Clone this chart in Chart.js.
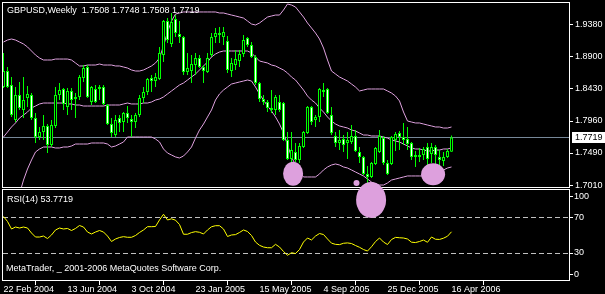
<!DOCTYPE html>
<html>
<head>
<meta charset="utf-8">
<script src="https://cdn.jsdelivr.net/npm/chart.js@4/dist/chart.umd.min.js"></script>
<style>
  html, body { margin: 0; padding: 0; background: #000; overflow: hidden; }
  canvas { display: block; }
</style>
</head>
<body>
<canvas id="mtChart" width="605" height="294"></canvas>
<script>
// GBPUSD weekly, 22 Feb 2004 .. 16 Apr 2006 (one value per weekly bar)
var tickBars  = [0, 16, 32, 48, 64, 80, 96, 112];
var tickDates = ['22 Feb 2004', '13 Jun 2004', '3 Oct 2004', '23 Jan 2005',
                 '15 May 2005', '4 Sep 2005', '25 Dec 2005', '16 Apr 2006'];
var priceTicks = [1.9380, 1.8900, 1.8430, 1.7960, 1.7490, 1.7010];
var rsiTickText = ['100', '70', '30', '0'];
var rsiLevels = [70, 30];

var opens = [1.8459,1.8694,1.8489,1.7975,1.8342,1.8122,1.8298,1.8342,1.8004,1.7725,
1.7798,1.7887,1.7608,1.7887,1.8342,1.8430,1.8166,1.8401,1.8283,1.8313,
1.8591,1.8753,1.8239,1.8430,1.8430,1.8459,1.8195,1.7916,1.7754,1.8004,
1.7945,1.8078,1.7990,1.7945,1.8048,1.8298,1.8386,1.8591,1.8547,1.8577,
1.8929,1.9428,1.9091,1.9458,1.9238,1.9194,1.8680,1.8694,1.8782,1.8885,
1.8753,1.8680,1.8929,1.9194,1.9252,1.9194,1.9135,1.8694,1.8782,1.8841,
1.8944,1.9179,1.9076,1.8900,1.8518,1.8283,1.8239,1.8151,1.8122,1.8239,
1.8224,1.7681,1.7402,1.7505,1.7387,1.7578,1.7784,1.8166,1.7975,1.8019,
1.8415,1.8430,1.8048,1.7740,1.7637,1.7696,1.7637,1.7652,1.7740,1.7505,
1.7432,1.7182,1.7138,1.7329,1.7505,1.7710,1.7343,1.7329,1.7681,1.7784,
1.7725,1.7696,1.7637,1.7432,1.7461,1.7461,1.7578,1.7476,1.7578,1.7432,
1.7373,1.7432,1.7508];
var highs = [1.8959,1.8753,1.8606,1.8459,1.8533,1.8606,1.8474,1.8371,1.8078,1.7872,
1.8048,1.7916,1.7975,1.8459,1.8518,1.8445,1.8445,1.8445,1.8371,1.8636,
1.8782,1.8782,1.8474,1.8489,1.8489,1.8489,1.8210,1.8004,1.8048,1.8048,
1.8092,1.8180,1.8048,1.8078,1.8342,1.8459,1.8591,1.8636,1.8665,1.9047,
1.9443,1.9472,1.9546,1.9516,1.9428,1.9208,1.8959,1.8929,1.8959,1.8929,
1.8782,1.8959,1.9252,1.9326,1.9340,1.9340,1.9208,1.8885,1.9003,1.9003,
1.9223,1.9194,1.9120,1.8929,1.8533,1.8342,1.8268,1.8415,1.8342,1.8342,
1.8239,1.7798,1.7798,1.7637,1.7637,1.7813,1.8180,1.8180,1.8048,1.8445,
1.8518,1.8445,1.8166,1.7798,1.7828,1.7754,1.7798,1.7901,1.7828,1.7578,
1.7446,1.7299,1.7358,1.7578,1.7828,1.7740,1.7387,1.7740,1.7798,1.7813,
1.7931,1.7872,1.7652,1.7520,1.7564,1.7578,1.7637,1.7637,1.7608,1.7534,
1.7505,1.7549,1.7748];
var lows = [1.8445,1.8445,1.8019,1.7945,1.8122,1.8004,1.8166,1.7975,1.7637,1.7681,
1.7681,1.7490,1.7578,1.7857,1.8268,1.8122,1.8048,1.8122,1.8004,1.8268,
1.8533,1.8298,1.8195,1.8224,1.8268,1.8195,1.7901,1.7725,1.7725,1.7798,
1.7798,1.7931,1.7725,1.7857,1.8019,1.8224,1.8342,1.8386,1.8459,1.8562,
1.8826,1.9105,1.9047,1.9194,1.9105,1.8636,1.8636,1.8518,1.8636,1.8738,
1.8518,1.8665,1.8900,1.9105,1.9105,1.9076,1.8665,1.8606,1.8709,1.8753,
1.8900,1.9047,1.8885,1.8489,1.8239,1.8195,1.8092,1.8078,1.8048,1.8092,
1.7666,1.7387,1.7358,1.7358,1.7343,1.7564,1.7769,1.7901,1.7872,1.7945,
1.8313,1.8063,1.7754,1.7578,1.7534,1.7505,1.7402,1.7622,1.7505,1.7343,
1.7167,1.7050,1.7123,1.7314,1.7490,1.7314,1.7167,1.7314,1.7520,1.7534,
1.7608,1.7534,1.7387,1.7285,1.7358,1.7387,1.7314,1.7343,1.7270,1.7241,
1.7299,1.7417,1.7508];
var closes = [1.8694,1.8459,1.8048,1.8342,1.8151,1.8268,1.8357,1.8004,1.7725,1.7798,
1.7887,1.7608,1.7901,1.8342,1.8415,1.8210,1.8401,1.8268,1.8313,1.8606,
1.8738,1.8313,1.8459,1.8239,1.8459,1.8210,1.7916,1.7784,1.7975,1.7931,
1.8078,1.8004,1.7945,1.8048,1.8298,1.8386,1.8577,1.8547,1.8606,1.8959,
1.9428,1.9149,1.9414,1.9252,1.9194,1.8680,1.8738,1.8797,1.8885,1.8753,
1.8694,1.8885,1.9194,1.9252,1.9223,1.9267,1.8709,1.8812,1.8870,1.8944,
1.9149,1.9076,1.8900,1.8518,1.8283,1.8239,1.8151,1.8122,1.8313,1.8122,
1.7681,1.7402,1.7534,1.7387,1.7593,1.7798,1.8166,1.7945,1.8019,1.8430,
1.8386,1.8078,1.7784,1.7637,1.7681,1.7608,1.7681,1.7740,1.7520,1.7432,
1.7182,1.7138,1.7343,1.7564,1.7740,1.7343,1.7182,1.7725,1.7769,1.7725,
1.7681,1.7622,1.7432,1.7461,1.7432,1.7549,1.7402,1.7578,1.7461,1.7387,
1.7432,1.7520,1.7719];

var bbUpper = [1.9120,1.9149,1.9164,1.9149,1.9120,1.9091,1.9047,1.8988,1.8929,1.8885,
1.8856,1.8856,1.8856,1.8870,1.8870,1.8870,1.8870,1.8856,1.8812,1.8768,
1.8768,1.8782,1.8782,1.8782,1.8797,1.8782,1.8782,1.8782,1.8768,1.8768,
1.8753,1.8738,1.8709,1.8694,1.8694,1.8709,1.8738,1.8768,1.8812,1.8885,
1.9061,1.9267,1.9428,1.9531,1.9546,1.9561,1.9561,1.9561,1.9561,1.9561,
1.9561,1.9561,1.9561,1.9561,1.9546,1.9546,1.9531,1.9516,1.9502,1.9487,
1.9472,1.9428,1.9384,1.9370,1.9399,1.9443,1.9487,1.9502,1.9516,1.9516,
1.9590,1.9678,1.9663,1.9634,1.9561,1.9487,1.9399,1.9326,1.9252,1.9164,
1.9032,1.8856,1.8694,1.8650,1.8606,1.8577,1.8547,1.8503,1.8459,1.8401,
1.8415,1.8430,1.8430,1.8430,1.8430,1.8430,1.8401,1.8371,1.8327,1.8254,
1.8092,1.7960,1.7945,1.7931,1.7931,1.7916,1.7901,1.7887,1.7872,1.7872,
1.7857,1.7857,1.7872];
var bbMiddle = [1.7725,1.7798,1.7872,1.7931,1.8004,1.8048,1.8092,1.8151,1.8180,1.8210,
1.8224,1.8224,1.8224,1.8224,1.8224,1.8224,1.8210,1.8210,1.8195,1.8195,
1.8180,1.8180,1.8180,1.8180,1.8180,1.8180,1.8195,1.8195,1.8195,1.8195,
1.8210,1.8224,1.8210,1.8210,1.8210,1.8224,1.8224,1.8239,1.8268,1.8283,
1.8313,1.8357,1.8401,1.8445,1.8489,1.8518,1.8562,1.8606,1.8650,1.8709,
1.8768,1.8826,1.8900,1.8944,1.8973,1.8988,1.8988,1.8988,1.8988,1.8988,
1.8988,1.8988,1.8959,1.8900,1.8841,1.8826,1.8812,1.8782,1.8768,1.8738,
1.8709,1.8665,1.8606,1.8562,1.8489,1.8415,1.8327,1.8268,1.8224,1.8151,
1.8092,1.8019,1.7960,1.7916,1.7887,1.7872,1.7857,1.7828,1.7813,1.7784,
1.7754,1.7754,1.7740,1.7740,1.7740,1.7725,1.7710,1.7681,1.7666,1.7652,
1.7622,1.7593,1.7564,1.7549,1.7549,1.7534,1.7520,1.7520,1.7534,1.7534,
1.7549,1.7549,1.7564];
var bbLower = [1.6330,1.6448,1.6580,1.6712,1.6888,1.7093,1.7255,1.7387,1.7505,1.7549,
1.7578,1.7578,1.7578,1.7564,1.7564,1.7578,1.7578,1.7593,1.7622,1.7622,
1.7622,1.7622,1.7637,1.7637,1.7637,1.7637,1.7622,1.7578,1.7593,1.7622,
1.7652,1.7725,1.7725,1.7725,1.7725,1.7725,1.7725,1.7725,1.7696,1.7652,
1.7549,1.7490,1.7461,1.7432,1.7417,1.7446,1.7505,1.7578,1.7710,1.7828,
1.7916,1.8019,1.8122,1.8268,1.8357,1.8415,1.8459,1.8503,1.8518,1.8533,
1.8547,1.8562,1.8547,1.8459,1.8357,1.8268,1.8180,1.8107,1.8019,1.7916,
1.7784,1.7608,1.7432,1.7314,1.7211,1.7138,1.7138,1.7138,1.7138,1.7182,
1.7241,1.7285,1.7314,1.7329,1.7314,1.7285,1.7270,1.7241,1.7211,1.7182,
1.7153,1.7108,1.7064,1.7035,1.7020,1.7020,1.7050,1.7093,1.7108,1.7123,
1.7138,1.7153,1.7153,1.7153,1.7153,1.7153,1.7153,1.7167,1.7182,1.7211,
1.7241,1.7270,1.7285];

var rsi = [70.9,65.3,56.9,59.1,58.0,59.1,58.0,52.4,47.9,47.9,
49.0,46.2,50.2,55.8,58.0,56.9,57.5,55.2,57.5,60.8,
59.1,53.5,51.3,53.5,55.2,53.5,49.0,42.9,45.7,47.4,
48.3,47.6,47.6,49.6,53.0,55.8,59.5,59.5,59.7,67.0,
73.4,67.0,68.3,66.8,61.9,51.0,51.0,52.9,53.9,53.2,
51.3,55.8,59.4,60.6,60.6,56.9,48.5,50.2,50.6,53.0,
55.8,54.1,49.6,42.3,38.6,36.7,35.9,35.9,39.7,36.7,
31.7,27.5,30.3,29.4,33.9,42.3,46.8,44.6,49.0,51.8,
50.7,45.7,41.0,39.7,39.4,40.9,41.3,40.6,38.4,36.4,
33.9,32.2,37.0,42.8,46.8,42.3,39.5,45.1,47.5,47.1,
46.8,45.7,42.1,41.7,42.9,44.5,42.0,47.9,45.4,45.2,
46.6,48.8,53.7719];

// hand drawn marks on the chart (bar index, value, axis)
var marks = [
  { bar: 72.4,  value: 1.7186, axis: 'y' },
  { bar: 88.25, value: 1.7050, axis: 'y' },
  { bar: 91.9,  value: 89.4,   axis: 'y2' },
  { bar: 107.4, value: 1.7178, axis: 'y' }
];
var markRadii = [[10, 12], [3, 3], [15, 18], [12, 11]];

var LIME = '#00ff00', PLUM = '#dda0dd', FONT = '9px "Liberation Sans", Arial, sans-serif';

var bars = opens.map(function (v, i) { return i; });
var last = bars.length - 1;

function series(arr) {
  return arr.map(function (v, i) { return { x: i, y: v }; });
}

function noPad(s) {
  s.paddingTop = 0; s.paddingBottom = 0; s.paddingLeft = 0; s.paddingRight = 0;
}

// keep every dataset inside its own panel
var panelClip = {
  id: 'panelClip',
  beforeDatasetDraw: function (chart, args) {
    var ys = chart.scales[args.meta.yAxisID];
    var ctx = chart.ctx;
    ctx.save();
    ctx.beginPath();
    ctx.rect(chart.chartArea.left, ys.top, chart.chartArea.right - chart.chartArea.left, ys.bottom - ys.top);
    ctx.clip();
  },
  afterDatasetDraw: function (chart) {
    chart.ctx.restore();
  }
};

var mtDecor = {
  id: 'mtDecor',
  beforeDraw: function (chart) {
    var ctx = chart.ctx;
    ctx.save();
    ctx.fillStyle = '#000';
    ctx.fillRect(0, 0, chart.width, chart.height);
    ctx.restore();
  },
  beforeDatasetsDraw: function (chart) {
    var ctx = chart.ctx, a = chart.chartArea;
    var y2 = chart.scales.y2, y = chart.scales.y;
    ctx.save();
    // RSI levels
    ctx.strokeStyle = '#c0c0c0';
    ctx.lineWidth = 1;
    ctx.setLineDash([5, 3]);
    rsiLevels.forEach(function (lv) {
      var py = Math.round(y2.getPixelForValue(lv)) + 0.5;
      ctx.beginPath();
      ctx.moveTo(a.left, py);
      ctx.lineTo(a.right, py);
      ctx.stroke();
    });
    ctx.setLineDash([]);
    // last price line
    var pl = Math.round(y.getPixelForValue(closes[last])) + 0.5;
    ctx.strokeStyle = '#778899';
    ctx.beginPath();
    ctx.moveTo(a.left, pl);
    ctx.lineTo(a.right, pl);
    ctx.stroke();
    ctx.restore();
  },
  afterDraw: function (chart) {
    var ctx = chart.ctx, a = chart.chartArea;
    var y = chart.scales.y, y2 = chart.scales.y2, x = chart.scales.x;
    ctx.save();
    // panel frames
    ctx.strokeStyle = '#fff';
    ctx.lineWidth = 1;
    ctx.strokeRect(a.left - 0.5, y.top + 0.5, a.right - a.left + 1, y.bottom - y.top - 1);
    ctx.strokeRect(a.left - 0.5, y2.top + 1.5, a.right - a.left + 1, y2.bottom - y2.top - 2);

    // texts
    ctx.font = FONT;
    ctx.textBaseline = 'middle';
    ctx.fillStyle = '#fff';
    ctx.fillText('GBPUSD,Weekly  ' + [opens[last], highs[last], lows[last], closes[last]]
      .map(function (v) { return v.toFixed(4); }).join(' '), 7, 11);
    ctx.fillText('RSI(14) ' + rsi[last].toFixed(4), 7, y2.top + 12);
    ctx.fillText('MetaTrader, _ 2001-2006 MetaQuotes Software Corp.', 6, y2.bottom - 12);

    // last price box
    var pl = Math.round(y.getPixelForValue(closes[last]));
    ctx.fillStyle = '#fff';
    ctx.fillRect(a.right + 3, pl - 5, chart.width - a.right - 3, 11);
    ctx.fillStyle = '#000';
    ctx.fillText(closes[last].toFixed(4), a.right + 6, pl + 0.5);

    // marks
    ctx.fillStyle = PLUM;
    marks.forEach(function (m, i) {
      var cx = x.getPixelForValue(m.bar);
      var cy = chart.scales[m.axis].getPixelForValue(m.value);
      ctx.beginPath();
      ctx.ellipse(cx, cy, markRadii[i][0], markRadii[i][1], 0, 0, Math.PI * 2);
      ctx.fill();
    });
    ctx.restore();
  }
};

var tickFont = { family: '"Liberation Sans", Arial, sans-serif', size: 9 };

new Chart(document.getElementById('mtChart'), {
  type: 'bar',
  data: {
    datasets: [
      {
        type: 'bar', label: 'range',
        data: bars.map(function (i) { return { x: i, y: [lows[i], highs[i]] }; }),
        backgroundColor: LIME, borderWidth: 0, barThickness: 1,
        grouped: false, inflateAmount: 0, yAxisID: 'y', order: 2
      },
      {
        type: 'bar', label: 'body',
        data: bars.map(function (i) { return { x: i, y: [opens[i], closes[i]] }; }),
        backgroundColor: bars.map(function (i) { return closes[i] >= opens[i] ? '#000' : '#fff'; }),
        borderColor: LIME, borderWidth: 1, borderSkipped: false, barThickness: 3,
        grouped: false, inflateAmount: 0, yAxisID: 'y', order: 1
      },
      { type: 'line', label: 'upper', data: series(bbUpper), borderColor: PLUM, borderWidth: 1, pointRadius: 0, yAxisID: 'y', order: 3 },
      { type: 'line', label: 'middle', data: series(bbMiddle), borderColor: PLUM, borderWidth: 1, pointRadius: 0, yAxisID: 'y', order: 3 },
      { type: 'line', label: 'lower', data: series(bbLower), borderColor: PLUM, borderWidth: 1, pointRadius: 0, yAxisID: 'y', order: 3 },
      { type: 'line', label: 'RSI(14)', data: series(rsi), borderColor: '#ffff00', borderWidth: 1, pointRadius: 0, yAxisID: 'y2', order: 0 }
    ]
  },
  options: {
    responsive: false,
    animation: false,
    devicePixelRatio: 1,
    events: [],
    layout: { padding: { top: 2, left: 3, right: 0, bottom: 0 } },
    plugins: { legend: { display: false }, tooltip: { enabled: false } },
    scales: {
      x: {
        type: 'linear', position: 'bottom', offset: false,
        min: -0.125, max: 141.375,
        afterBuildTicks: function (s) { s.ticks = tickBars.map(function (v) { return { value: v }; }); },
        afterFit: function (s) { s.height = 13; noPad(s); },
        grid: { drawOnChartArea: false, color: '#fff', tickLength: 4 },
        border: { display: false },
        ticks: {
          color: '#fff', font: tickFont, align: 'start', padding: -1,
          maxRotation: 0, autoSkip: false,
          callback: function (v) { return tickDates[tickBars.indexOf(v)]; }
        }
      },
      y: {
        type: 'linear', position: 'right', stack: 'panes', stackWeight: 2, offset: false,
        min: 1.69762, max: 1.97075,
        afterBuildTicks: function (s) { s.ticks = priceTicks.map(function (v) { return { value: v }; }); },
        afterFit: function (s) { s.width = 36; noPad(s); },
        grid: { drawOnChartArea: false, color: '#fff', tickLength: 4 },
        border: { display: false },
        ticks: { color: '#fff', font: tickFont, padding: 2, callback: function (v) { return v.toFixed(4); } }
      },
      y2: {
        type: 'linear', position: 'right', stack: 'panes', stackWeight: 1, offset: false,
        min: -1.37, max: 102.83,
        // MetaTrader keeps the 100 / 0 labels inside the pane
        afterBuildTicks: function (s) { s.ticks = [93.1, 70, 30, 6.1].map(function (v) { return { value: v }; }); },
        afterFit: function (s) { s.width = 36; noPad(s); },
        grid: { drawOnChartArea: false, color: '#fff', tickLength: 4 },
        border: { display: false },
        ticks: {
          color: '#fff', font: tickFont, padding: 1,
          callback: function (v, i) { return rsiTickText[i]; }
        }
      }
    }
  },
  plugins: [panelClip, mtDecor]
});
</script>
</body>
</html>
